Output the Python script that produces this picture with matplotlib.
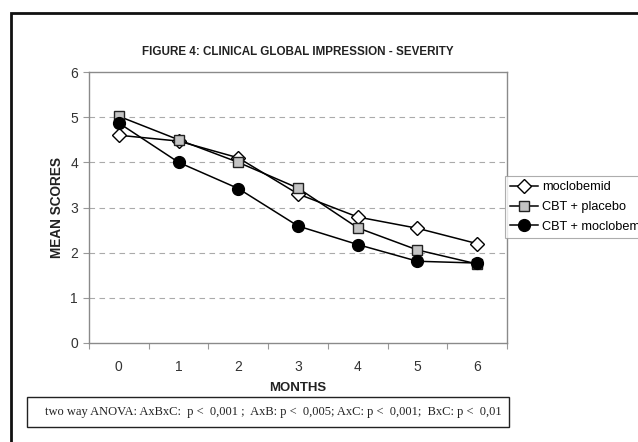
import matplotlib
matplotlib.use("Agg")
import matplotlib.pyplot as plt
from matplotlib.patches import Rectangle

months = [0, 1, 2, 3, 4, 5, 6]
moclobemid = [4.6, 4.47, 4.1, 3.3, 2.79, 2.54, 2.2]
cbt_placebo = [5.02, 4.5, 4.0, 3.43, 2.55, 2.06, 1.75]
cbt_moclobemid = [4.87, 4.0, 3.42, 2.59, 2.18, 1.81, 1.77]
series_names = ["moclobemid", "CBT + placebo", "CBT + moclobemid"]
title = "FIGURE 4: CLINICAL GLOBAL IMPRESSION - SEVERITY"
note = "two way ANOVA: AxBxC:  p <  0,001 ;  AxB: p <  0,005; AxC: p <  0,001;  BxC: p <  0,01"

W, H = 638, 442
fig = plt.figure(figsize=(W / 100, H / 100), dpi=100)
plt.rcParams['font.family'] = ['Liberation Sans', 'DejaVu Sans']

# outer frame
fig.add_artist(Rectangle((11 / W, -0.2), 1.2, 1 - 13 / H + 0.2, transform=fig.transFigure,
                         fill=False, edgecolor='#111111', linewidth=2.0))

ax = fig.add_axes([89 / W, 1 - 343 / H, (507 - 89) / W, (343 - 72) / H])
x = list(range(len(months)))
ax.plot(x, moclobemid, color='black', lw=1.1, marker='D', ms=7, mfc='white', mec='black',
        mew=1.0, label=series_names[0], zorder=3)
ax.plot(x, cbt_placebo, color='black', lw=1.1, marker='s', ms=7.5, mfc='#c4c4c4', mec='#222222',
        mew=1.0, label=series_names[1], zorder=4)
ax.plot(x, cbt_moclobemid, color='black', lw=1.1, marker='o', ms=8.5, mfc='black', mec='black',
        label=series_names[2], zorder=5)

ax.set_xlim(-0.5, len(months) - 0.5)
ax.set_ylim(0, 6)
ax.set_yticks(range(0, 7))
ax.set_xticks([i - 0.5 for i in range(len(months) + 1)], minor=False)
ax.set_xticklabels([])
ax.set_xticks(x, minor=True)
ax.set_xticklabels([str(m) for m in months], minor=True)
ax.tick_params(axis='x', which='minor', length=0, pad=12, labelsize=10, labelcolor='#333333')
ax.tick_params(axis='x', which='major', length=4, color='#999999', direction='out')
ax.tick_params(axis='y', length=4, color='#999999', direction='out', labelsize=10,
               labelcolor='#333333', pad=4)
for y in range(1, 6):
    ax.axhline(y, color='#aaaaaa', lw=0.8, ls=(0, (5, 4)), zorder=1)
for s in ax.spines.values():
    s.set_color('#8a8a8a')
    s.set_linewidth(1.0)

ax.set_title(title, fontsize=8.4, fontweight='bold', color='#222222', pad=12)
ax.set_xlabel("MONTHS", fontsize=9.5, fontweight='bold', color='#222222', labelpad=6)
ax.set_ylabel("MEAN SCORES", fontsize=9.8, fontweight='bold', color='#222222', labelpad=4)

leg = ax.legend(loc='upper left', bbox_to_anchor=(505 / W, 1 - 176 / H), bbox_transform=fig.transFigure,
                frameon=True, fancybox=False, fontsize=9.2, handlelength=2.2, handletextpad=0.3,
                labelspacing=0.62, borderpad=0.4, borderaxespad=0)
leg.get_frame().set_edgecolor('#999999')
leg.get_frame().set_linewidth(0.8)

# note box
fig.add_artist(Rectangle((27 / W, 1 - 427 / H), (509 - 27) / W, 30 / H, transform=fig.transFigure,
                         fill=False, edgecolor='#222222', linewidth=1.0))
fig.text(45 / W, 1 - 412 / H, note, family='Liberation Serif', fontsize=9, color='#222222',
         va='center', ha='left')

fig.savefig("out.png", dpi=100)
